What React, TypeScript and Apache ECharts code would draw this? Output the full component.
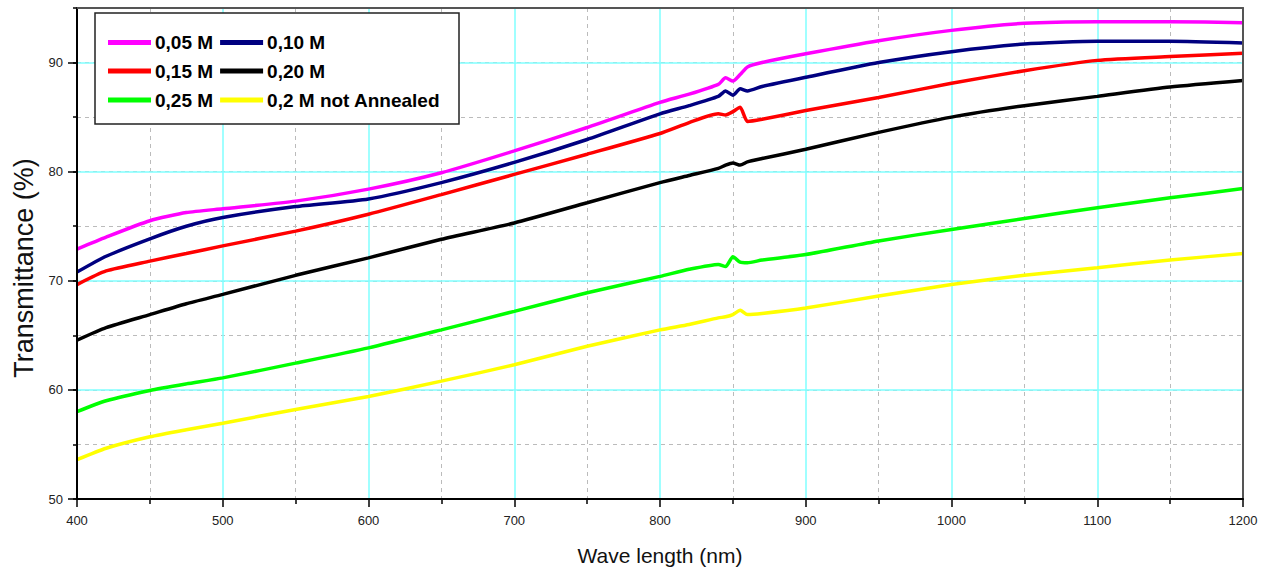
import React, { useEffect, useRef } from "react";
import * as echarts from "echarts";

// Wavelength sample points (nm)
const waveLength = [400, 420, 450, 475, 500, 550, 600, 650, 700, 750, 800, 820, 840, 845, 850, 855, 860, 870, 900, 950, 1000, 1050, 1100, 1150, 1200];

// Transmittance (%) per sample
const m005 = [72.9, 74.0, 75.5, 76.25, 76.6, 77.3, 78.4, 79.9, 81.9, 84.05, 86.35, 87.1, 88.0, 88.6, 88.3, 88.9, 89.6, 90.0, 90.8, 92.0, 92.95, 93.6, 93.75, 93.75, 93.65];
const m010 = [70.8, 72.25, 73.85, 75.0, 75.8, 76.8, 77.5, 79.0, 80.85, 82.95, 85.3, 86.05, 86.9, 87.4, 87.0, 87.6, 87.4, 87.8, 88.65, 90.0, 91.0, 91.7, 91.95, 91.95, 91.8];
const m015 = [69.65, 70.9, 71.8, 72.5, 73.2, 74.55, 76.1, 77.9, 79.75, 81.6, 83.5, 84.5, 85.3, 85.2, 85.5, 85.9, 84.6, 84.8, 85.6, 86.8, 88.1, 89.25, 90.2, 90.55, 90.85];
const m020 = [64.55, 65.7, 66.9, 67.9, 68.75, 70.5, 72.1, 73.8, 75.3, 77.15, 79.0, 79.65, 80.3, 80.6, 80.8, 80.6, 80.9, 81.2, 82.05, 83.6, 85.0, 86.05, 86.9, 87.75, 88.35];
const m025 = [58.0, 59.0, 59.95, 60.55, 61.1, 62.45, 63.85, 65.5, 67.2, 68.9, 70.4, 71.05, 71.5, 71.3, 72.2, 71.7, 71.65, 71.9, 72.4, 73.65, 74.7, 75.7, 76.7, 77.6, 78.45];
const notAnnealed = [53.6, 54.65, 55.7, 56.35, 56.95, 58.2, 59.4, 60.8, 62.3, 64.0, 65.5, 66.0, 66.6, 66.7, 66.9, 67.3, 66.9, 67.0, 67.5, 68.6, 69.65, 70.5, 71.2, 71.9, 72.5];

const seriesNames = ["0,05 M", "0,10 M", "0,15 M", "0,20 M", "0,25 M", "0,2 M not Annealed"];
const seriesColors = ["#ff00ff", "#000080", "#ff0000", "#000000", "#00ff00", "#ffff00"];
const legendRows = [
  ["0,05 M", "0,10 M"],
  ["0,15 M", "0,20 M"],
  ["0,25 M", "0,2 M not Annealed"],
];

const xMin = 400;
const xMax = 1200;
const xStep = 100;
const yMin = 50;
const yMax = 95;
const yMajor = 10;
const yMinor = 5;

export default function App() {
  const ref = useRef<HTMLDivElement>(null);

  useEffect(() => {
    if (!ref.current) return;
    const chart = echarts.init(ref.current, null, { renderer: "svg" });
    const font = 'Arial, "Liberation Sans", sans-serif';
    const values = [m005, m010, m015, m020, m025, notAnnealed];
    const hidden = { show: false };
    const frameColor = "#555";

    const rowTops = [33, 61.5, 90.5];

    chart.setOption({
      animation: false,
      backgroundColor: "#ffffff",
      grid: { left: 77, right: 25, top: 8, bottom: 76 },
      xAxis: [
        {
          type: "value", min: xMin, max: xMax, interval: xStep, position: "bottom", z: 0,
          axisLine: hidden, axisTick: hidden, axisLabel: hidden,
          splitLine: { show: true, lineStyle: { color: "#80ffff", width: 1.5 } },
          minorTick: { show: false, splitNumber: 2 },
          minorSplitLine: { show: true, lineStyle: { color: "#bbbbbb", width: 1, type: [4, 4] } },
        },
        {
          type: "value", min: xMin, max: xMax, interval: xStep, position: "bottom", z: 5,
          axisLine: { show: true, onZero: false, lineStyle: { color: "#000", width: 2 } },
          axisTick: { show: true, inside: false, length: 8, lineStyle: { color: "#000", width: 1.5 } },
          minorTick: { show: true, splitNumber: 2, length: 5, lineStyle: { color: "#000", width: 1.5 } },
          splitLine: hidden,
          axisLabel: {
            margin: 15, fontSize: 13, color: "#222", fontFamily: font,
            formatter: (v: number) => String(v),
          },
          name: "Wave length (nm)", nameLocation: "middle", nameGap: 46,
          nameTextStyle: { fontSize: 21, color: "#111", fontFamily: font },
        },
        {
          type: "value", min: xMin, max: xMax, interval: xStep, position: "top", z: 5,
          axisLine: { show: true, onZero: false, lineStyle: { color: frameColor, width: 2 } },
          axisTick: hidden, axisLabel: hidden, splitLine: hidden,
        },
      ],
      yAxis: [
        {
          type: "value", min: yMin, max: yMax, interval: yMinor, position: "left", z: 0,
          axisLine: hidden, axisTick: hidden, axisLabel: hidden,
          splitLine: { show: true, lineStyle: { color: "#bbbbbb", width: 1, type: [4, 4] } },
        },
        {
          type: "value", min: yMin, max: yMax, interval: yMajor, position: "left", z: 1,
          axisLine: hidden, axisTick: hidden, axisLabel: hidden,
          splitLine: { show: true, lineStyle: { color: "#80ffff", width: 1.5 } },
        },
        {
          type: "value", min: yMin, max: yMax, interval: yMajor, position: "left", z: 5,
          axisLine: { show: true, onZero: false, lineStyle: { color: "#000", width: 2 } },
          axisTick: { show: true, inside: false, length: 9, lineStyle: { color: "#000", width: 1.5 } },
          splitLine: hidden,
          axisLabel: {
            margin: 14, fontSize: 13, color: "#222", fontFamily: font, showMaxLabel: false,
            formatter: (v: number) => String(v),
          },
        },
        {
          type: "value", min: yMin, max: yMax, interval: yMinor, position: "left", z: 5,
          axisLine: hidden,
          axisTick: { show: true, inside: false, length: 4, lineStyle: { color: "#000", width: 1.5 } },
          splitLine: hidden, axisLabel: hidden,
        },
        {
          type: "value", min: yMin, max: yMax, interval: yMajor, position: "right", z: 5,
          axisLine: { show: true, onZero: false, lineStyle: { color: frameColor, width: 2 } },
          axisTick: hidden, axisLabel: hidden, splitLine: hidden,
        },
      ],
      legend: legendRows.map((row, i) => ({
        data: row,
        left: 108,
        top: rowTops[i],
        orient: "horizontal",
        padding: 0,
        itemGap: 7,
        itemWidth: 43,
        itemHeight: 5,
        icon: "rect",
        z: 10,
        selectedMode: false,
        textStyle: { fontSize: 19, fontWeight: "bold", color: "#000", fontFamily: font, padding: [0, 0, 0, -1] },
      })),
      graphic: [
        {
          type: "rect",
          z: 8,
          shape: { x: 95, y: 13, width: 364, height: 111 },
          style: { fill: "#ffffff", stroke: "#222", lineWidth: 1.5 },
        },
        {
          type: "text",
          z: 10,
          x: 24,
          y: 268,
          rotation: Math.PI / 2,
          style: {
            text: "Transmittance (%)",
            fontSize: 27,
            fontFamily: font,
            fill: "#111",
            textAlign: "center",
            textVerticalAlign: "middle",
          },
        },
      ],
      series: seriesNames.map((name, i) => ({
        name,
        type: "line",
        xAxisIndex: 0,
        yAxisIndex: 0,
        data: waveLength.map((w, j) => [w, values[i][j]]),
        showSymbol: false,
        symbol: "none",
        smooth: 0.2,
        z: 2,
        lineStyle: { color: seriesColors[i], width: 3.5 },
        itemStyle: { color: seriesColors[i] },
      })),
    });

    return () => chart.dispose();
  }, []);

  return (
    <div
      ref={ref}
      style={{ position: "absolute", left: 0, top: 0, width: 1268, height: 575 }}
    />
  );
}
